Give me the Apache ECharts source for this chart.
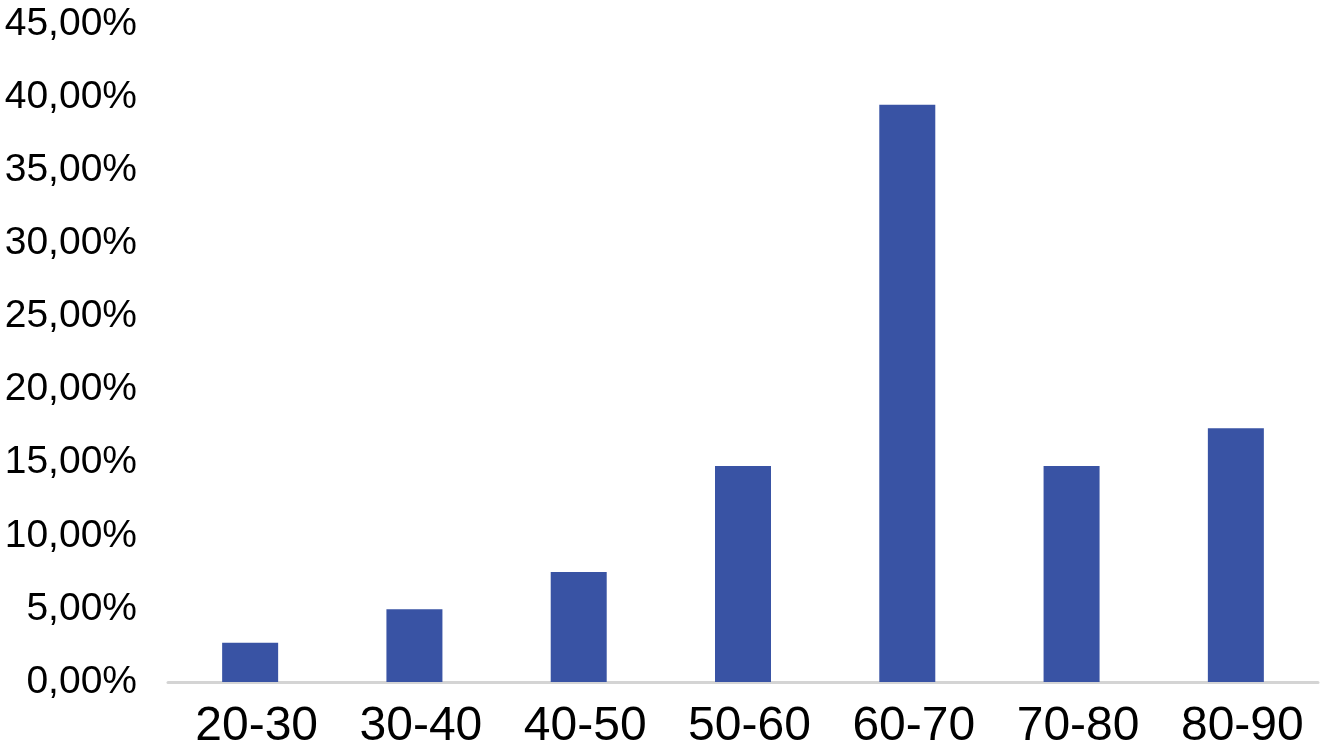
<!DOCTYPE html>
<html>
<head>
<meta charset="utf-8">
<script src="https://cdn.jsdelivr.net/npm/echarts@6/dist/echarts.min.js"></script>
<style>
html,body{margin:0;padding:0;background:#fff;}
#chart{width:1328px;height:754px;}
</style>
</head>
<body>
<div id="chart"></div>
<script>
var categories = ['20-30', '30-40', '40-50', '50-60', '60-70', '70-80', '80-90'];
var values = [2.69, 4.97, 7.52, 14.77, 39.47, 14.77, 17.35];
var yMin = 0, yMax = 45, yStep = 5;

var chart = echarts.init(document.getElementById('chart'));
chart.setOption({
  animation: false,
  backgroundColor: '#ffffff',
  grid: { left: 168, right: 10, top: 24, bottom: 72, containLabel: false },
  xAxis: {
    type: 'category',
    data: categories,
    axisLine: { show: true, lineStyle: { color: '#d4d4d4', width: 3 } },
    axisTick: { show: false },
    axisLabel: {
      color: '#000',
      fontFamily: 'Liberation Sans, Arial, Helvetica, sans-serif',
      fontSize: 48,
      margin: 21,
      padding: [0, 0, 0, 13]
    }
  },
  yAxis: {
    type: 'value',
    min: yMin,
    max: yMax,
    interval: yStep,
    axisLine: { show: false },
    axisTick: { show: false },
    splitLine: { show: false },
    axisLabel: {
      color: '#000',
      fontFamily: 'Liberation Sans, Arial, Helvetica, sans-serif',
      fontSize: 39,
      margin: 31,
      formatter: function (v) { return v.toFixed(2).replace('.', ',') + '%'; }
    }
  },
  series: [{
    type: 'bar',
    data: values,
    barWidth: 56,
    itemStyle: { color: '#3953a4' }
  }]
});
</script>
</body>
</html>
